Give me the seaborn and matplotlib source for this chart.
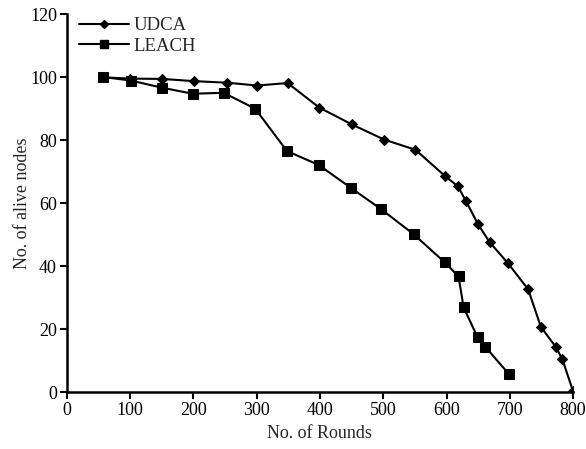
import matplotlib
matplotlib.use("Agg")
import matplotlib.pyplot as plt
import seaborn as sns
import pandas as pd
from matplotlib.lines import Line2D

udca_rounds = [58, 100, 151, 201, 254, 301, 349, 399, 450, 502, 551, 598, 618, 631, 650, 668, 697, 729, 749, 773, 783, 800]
udca_alive = [100, 99.6, 99.5, 98.8, 98.3, 97.4, 98.2, 90.4, 85.1, 80.2, 77.0, 68.6, 65.4, 60.6, 53.3, 47.7, 41.0, 32.7, 20.8, 14.3, 10.5, 0.3]
leach_rounds = [58, 101, 151, 199, 248, 298, 348, 398, 449, 497, 548, 597, 619, 627, 649, 661, 699]
leach_alive = [100.1, 99.0, 96.7, 94.8, 95.1, 90.0, 76.6, 72.2, 64.9, 58.1, 50.2, 41.3, 36.8, 27.0, 17.5, 14.5, 5.7]

sns.set_style("ticks")
plt.rcParams['font.family'] = ['Liberation Serif', 'DejaVu Serif']

df = pd.concat([
    pd.DataFrame({"rounds": udca_rounds, "alive": udca_alive, "method": "UDCA"}),
    pd.DataFrame({"rounds": leach_rounds, "alive": leach_alive, "method": "LEACH"}),
])

fig = plt.figure(figsize=(5.86, 4.49), dpi=100)
ax = fig.add_axes([0.1138, 0.1263, 0.8642, 0.8417])
sns.lineplot(data=df, x="rounds", y="alive", hue="method", style="method",
             markers={"UDCA": "D", "LEACH": "s"}, dashes=False,
             palette={"UDCA": "black", "LEACH": "black"},
             ax=ax, legend=False, sort=False)
for line, ms in zip(ax.lines, [5.5, 7.5]):
    line.set_markersize(ms)
    line.set_linewidth(1.5)
    line.set_markeredgecolor("black")
    line.set_markerfacecolor("black")

ax.set_xlim(0, 800)
ax.set_ylim(0, 120)
ax.set_xticks(range(0, 801, 100))
ax.set_yticks(range(0, 121, 20))
ax.tick_params(direction="out", length=5, width=1.5, labelsize=13, colors="black", pad=2)
for s in ["left", "bottom"]:
    ax.spines[s].set_linewidth(1.8)
    ax.spines[s].set_color("black")
sns.despine(ax=ax)
ax.set_xlabel("No. of Rounds", fontsize=13)
ax.set_ylabel("No. of alive nodes", fontsize=13, labelpad=0)
ax.yaxis.set_label_coords(-0.070, 0.5)

handles = [Line2D([], [], color="black", marker="D", markersize=4.5, linewidth=1.5),
           Line2D([], [], color="black", marker="s", markersize=6, linewidth=1.5)]
ax.legend(handles, ["UDCA", "LEACH"], loc="upper left", frameon=False, fontsize=13.5,
          handlelength=2.65, handletextpad=0.25, borderaxespad=0.0, labelspacing=0.2,
          bbox_to_anchor=(0.010, 1.013))

fig.savefig("out.png", dpi=100)
